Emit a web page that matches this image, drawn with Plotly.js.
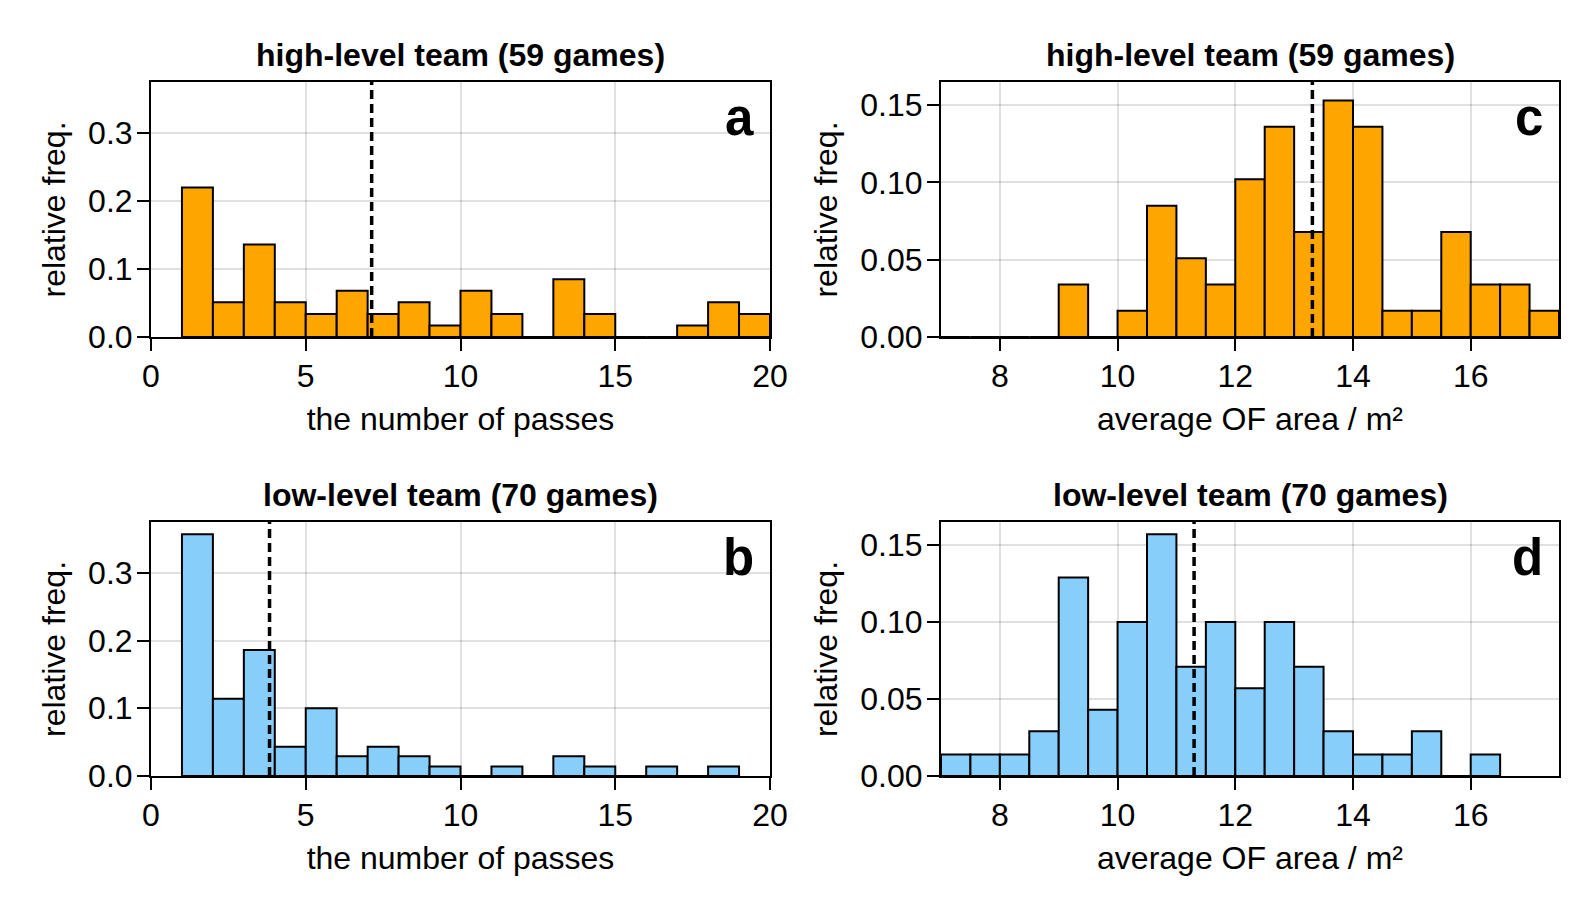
<!DOCTYPE html>
<html>
<head>
<meta charset="utf-8">
<script src="https://cdn.plot.ly/plotly-3.0.1.min.js"></script>
<style>
  html, body { margin: 0; padding: 0; background: #fff; }
  #chart { width: 1594px; height: 911px; }
</style>
</head>
<body>
<div id="chart"></div>
<script>
// ---- data ----
const passCentersHigh = [1.5, 2.5, 3.5, 4.5, 5.5, 6.5, 7.5, 8.5, 9.5, 10.5, 11.5, 12.5, 13.5, 14.5, 15.5, 16.5, 17.5, 18.5, 19.5];
const passFreqHigh    = [0.220, 0.051, 0.136, 0.051, 0.034, 0.068, 0.034, 0.051, 0.017, 0.068, 0.034, 0, 0.085, 0.034, 0, 0, 0.017, 0.051, 0.034];
const passCentersLow  = [1.5, 2.5, 3.5, 4.5, 5.5, 6.5, 7.5, 8.5, 9.5, 10.5, 11.5, 12.5, 13.5, 14.5, 15.5, 16.5, 17.5, 18.5];
const passFreqLow     = [0.357, 0.114, 0.186, 0.043, 0.100, 0.029, 0.043, 0.029, 0.014, 0, 0.014, 0, 0.029, 0.014, 0, 0.014, 0, 0.014];

const areaCentersHigh = [7.25, 7.75, 8.25, 8.75, 9.25, 9.75, 10.25, 10.75, 11.25, 11.75, 12.25, 12.75, 13.25, 13.75, 14.25, 14.75, 15.25, 15.75, 16.25, 16.75, 17.25];
const areaFreqHigh    = [0, 0, 0, 0, 0.034, 0, 0.017, 0.085, 0.051, 0.034, 0.102, 0.136, 0.068, 0.153, 0.136, 0.017, 0.017, 0.068, 0.034, 0.034, 0.017];
const areaCentersLow  = [7.25, 7.75, 8.25, 8.75, 9.25, 9.75, 10.25, 10.75, 11.25, 11.75, 12.25, 12.75, 13.25, 13.75, 14.25, 14.75, 15.25, 15.75, 16.25];
const areaFreqLow     = [0.014, 0.014, 0.014, 0.029, 0.129, 0.043, 0.100, 0.157, 0.071, 0.100, 0.057, 0.100, 0.071, 0.029, 0.014, 0.014, 0.029, 0, 0.014];

const passBinWidth = 1;
const areaBinWidth = 0.5;

const meanPassHigh = 7.13;
const meanPassLow  = 3.83;
const meanAreaHigh = 13.31;
const meanAreaLow  = 11.30;

const titles = ["high-level team (59 games)", "low-level team (70 games)", "high-level team (59 games)", "low-level team (70 games)"];
const panelLetters = ["a", "b", "c", "d"];
const passTicks = [0, 5, 10, 15, 20];
const areaTicks = [8, 10, 12, 14, 16];
const passYTicks = [0, 0.1, 0.2, 0.3];
const areaYTicks = [0, 0.05, 0.10, 0.15];
const xLabelPass = "the number of passes";
const xLabelArea = "average OF area / m²";
const yLabel = "relative freq.";

// ---- style ----
const FONT = "Liberation Sans, Arial, Helvetica, sans-serif";
const ORANGE = "#FFA500";
const BLUE = "#87CEFA";
const GRID = "rgba(0,0,0,0.12)";
const FS = 32;

function barTrace(x, y, w, color, xa, ya) {
  return {
    type: "bar", x: x, y: y, width: w, xaxis: xa, yaxis: ya,
    marker: { color: color, line: { color: "black", width: 2 } },
    hoverinfo: "x+y", showlegend: false
  };
}

const data = [
  barTrace(passCentersHigh, passFreqHigh, passBinWidth, ORANGE, "x", "y"),
  barTrace(passCentersLow, passFreqLow, passBinWidth, BLUE, "x2", "y2"),
  barTrace(areaCentersHigh, areaFreqHigh, areaBinWidth, ORANGE, "x3", "y3"),
  barTrace(areaCentersLow, areaFreqLow, areaBinWidth, BLUE, "x4", "y4")
];

const W = 1594, H = 911;
const colX = [[151 / W, 770 / W], [941 / W, 1559 / W]];
const rowY = [[1 - 337 / H, 1 - 82 / H], [1 - 776 / H, 1 - 522 / H]];

function xAxis(domain, range, ticks, title, anchor) {
  return {
    domain: domain, range: range, anchor: anchor,
    tickvals: ticks, ticks: "outside", ticklen: 12, tickwidth: 2, tickcolor: "black",
    ticklabelstandoff: -2,
    showline: true, mirror: true, linecolor: "black", linewidth: 2,
    showgrid: true, gridcolor: GRID, gridwidth: 2, zeroline: false,
    tickfont: { family: FONT, size: FS, color: "black" },
    title: { text: title, font: { family: FONT, size: FS, color: "black" }, standoff: 14 },
    fixedrange: true
  };
}
function yAxis(domain, range, ticks, fmt, anchor) {
  return {
    domain: domain, range: range, anchor: anchor,
    tickvals: ticks, tickformat: fmt, ticks: "outside", ticklen: 12, tickwidth: 2, tickcolor: "black",
    ticklabelstandoff: -2,
    showline: true, mirror: true, linecolor: "black", linewidth: 2,
    showgrid: true, gridcolor: GRID, gridwidth: 2, zeroline: false,
    tickfont: { family: FONT, size: FS, color: "black" },
    title: { text: yLabel, font: { family: FONT, size: FS, color: "black" }, standoff: 13 },
    fixedrange: true
  };
}

const layout = {
  width: W, height: H,
  margin: { l: 0, r: 0, t: 0, b: 0 },
  paper_bgcolor: "white", plot_bgcolor: "white",
  bargap: 0, showlegend: false,
  xaxis:  xAxis(colX[0], [0, 20], passTicks, xLabelPass, "y"),
  yaxis:  yAxis(rowY[0], [0, 0.375], passYTicks, ".1f", "x"),
  xaxis2: xAxis(colX[0], [0, 20], passTicks, xLabelPass, "y2"),
  yaxis2: yAxis(rowY[1], [0, 0.375], passYTicks, ".1f", "x2"),
  xaxis3: xAxis(colX[1], [7, 17.5], areaTicks, xLabelArea, "y3"),
  yaxis3: yAxis(rowY[0], [0, 0.165], areaYTicks, ".2f", "x3"),
  xaxis4: xAxis(colX[1], [7, 17.5], areaTicks, xLabelArea, "y4"),
  yaxis4: yAxis(rowY[1], [0, 0.165], areaYTicks, ".2f", "x4"),
  shapes: [],
  annotations: []
};

const means = [meanPassHigh, meanPassLow, meanAreaHigh, meanAreaLow];
const axIds = ["", "2", "3", "4"];
means.forEach(function (m, i) {
  layout.shapes.push({
    type: "line", xref: "x" + axIds[i], yref: "y" + axIds[i] + " domain",
    x0: m, x1: m, y0: 0, y1: 1, layer: "above",
    line: { color: "black", width: 3.5, dash: "9px,5px" }
  });
});

axIds.forEach(function (id, i) {
  const xd = layout["xaxis" + id].domain;
  const yd = layout["yaxis" + id].domain;
  layout.annotations.push({
    text: "<b>" + titles[i] + "</b>", xref: "paper", yref: "paper",
    x: (xd[0] + xd[1]) / 2, y: yd[1], xanchor: "center", yanchor: "bottom", yshift: 7,
    showarrow: false, font: { family: FONT, size: 32, color: "black" }
  });
  layout.annotations.push({
    text: "<b>" + panelLetters[i] + "</b>", xref: "x" + id + " domain", yref: "y" + id + " domain",
    x: 1, y: 1, xanchor: "right", yanchor: "top", xshift: -14, yshift: -5,
    showarrow: false, font: { family: FONT, size: 51, color: "black" }
  });
});

Plotly.newPlot("chart", data, layout, { displayModeBar: false, staticPlot: true });
</script>
</body>
</html>
